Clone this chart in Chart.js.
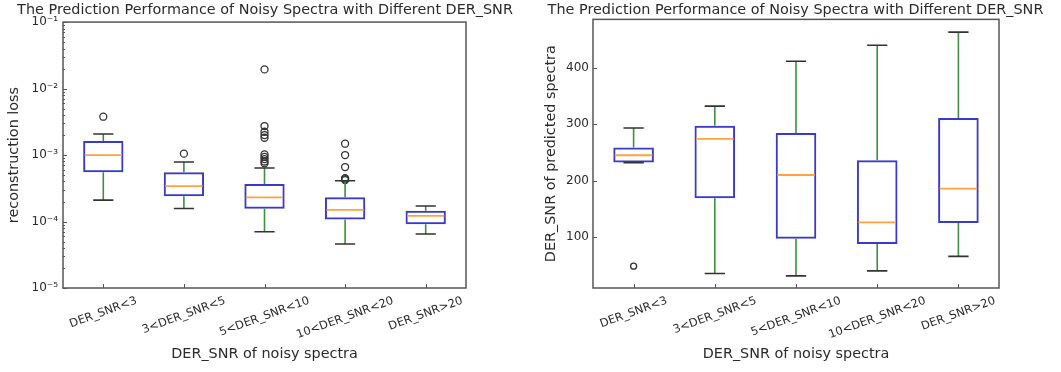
<!DOCTYPE html>
<html>
<head>
<meta charset="utf-8">
<script src="https://cdn.jsdelivr.net/npm/chart.js@4"></script>
<style>
  html, body { margin: 0; padding: 0; background: #fff; }
  .panel { position: absolute; top: 0; height: 372px; }
  #left { left: 0; width: 530px; }
  #right { left: 530px; width: 531px; }
</style>
</head>
<body>
<div class="panel" id="left"><canvas id="lossChart" width="530" height="372"></canvas></div>
<div class="panel" id="right"><canvas id="snrChart" width="531" height="372"></canvas></div>
<script>
const categories = ['DER_SNR<3', '3<DER_SNR<5', '5<DER_SNR<10', '10<DER_SNR<20', 'DER_SNR>20'];

// reconstruction loss per group: whisker ends, quartiles, medians, fliers
const lossLow = [2.1e-4, 1.57e-4, 7.0e-5, 4.6e-5, 6.5e-5];
const lossQ1 = [5.5e-4, 2.4e-4, 1.56e-4, 1.07e-4, 9.1e-5];
const lossMedian = [1.0e-3, 3.4e-4, 2.31e-4, 1.5e-4, 1.22e-4];
const lossQ3 = [1.62e-3, 5.5e-4, 3.66e-4, 2.31e-4, 1.45e-4];
const lossHigh = [2.07e-3, 7.85e-4, 6.4e-4, 4.1e-4, 1.71e-4];
const lossOutliers = [
  [3.77e-3],
  [1.05e-3],
  [7.5e-4, 8.0e-4, 8.7e-4, 9.4e-4, 1.02e-3, 1.82e-3, 2.0e-3, 2.24e-3, 2.73e-3, 1.94e-2],
  [4.2e-4, 4.35e-4, 4.5e-4, 6.6e-4, 1.0e-3, 1.48e-3],
  []
];
const lossTicks = [1e-5, 1e-4, 1e-3, 1e-2, 1e-1];

// DER_SNR of predicted spectra per group
const snrLow = [232, 35.6, 31.5, 40.4, 66];
const snrQ1 = [232, 169, 97, 88, 125];
const snrMedian = [245, 274, 210, 126, 186];
const snrQ3 = [258.5, 297.4, 284.5, 236, 311];
const snrHigh = [293.3, 332, 411.3, 439.6, 463];
const snrOutliers = [[48.7], [], [], [], []];
const snrTicks = [100, 200, 300, 400];

const BOX = '#3a3ac8';
const MEDIAN = '#ffa244';
const WHISKER = '#3f8f3f';
const CAP = '#333';
const FRAME = '#555';
const TEXT = '#2b2b2b';
const FONT = 'DejaVu Sans';
const TITLE = 'The Prediction Performance of Noisy Spectra with Different DER_SNR';

const SUP = {'-': '\u207B', '0': '\u2070', '1': '\u00B9', '2': '\u00B2', '3': '\u00B3',
  '4': '\u2074', '5': '\u2075', '6': '\u2076', '7': '\u2077', '8': '\u2078', '9': '\u2079'};
function powerLabel(v) {
  const e = Math.round(Math.log10(v));
  return '10' + String(e).split('').map(c => SUP[c]).join('');
}

// whiskers, caps and median lines, placed on the floating bars
const boxParts = {
  id: 'boxParts',
  afterDatasetsDraw(chart, args, opts) {
    const ctx = chart.ctx;
    const y = chart.scales.y;
    const bars = chart.getDatasetMeta(0).data;
    ctx.save();
    opts.low.forEach((lo, i) => {
      const cx = bars[i].x;
      const half = bars[i].width / 2;
      const pLo = y.getPixelForValue(lo);
      const pHi = y.getPixelForValue(opts.high[i]);
      ctx.lineWidth = 1.6;
      ctx.strokeStyle = WHISKER;
      ctx.beginPath();
      ctx.moveTo(cx, y.getPixelForValue(opts.q3[i]));
      ctx.lineTo(cx, pHi);
      ctx.moveTo(cx, y.getPixelForValue(opts.q1[i]));
      ctx.lineTo(cx, pLo);
      ctx.stroke();

      ctx.strokeStyle = CAP;
      ctx.beginPath();
      [pLo, pHi].forEach(py => {
        ctx.moveTo(cx - half / 2, py);
        ctx.lineTo(cx + half / 2, py);
      });
      ctx.stroke();

      const pMed = y.getPixelForValue(opts.median[i]);
      ctx.lineWidth = 1.8;
      ctx.strokeStyle = MEDIAN;
      ctx.beginPath();
      ctx.moveTo(cx - half + 1.5, pMed);
      ctx.lineTo(cx + half - 1.5, pMed);
      ctx.stroke();
    });
    ctx.restore();
  }
};

// axes frame, inward tick marks and the tilted category labels
const frame = {
  id: 'frame',
  afterDraw(chart, args, opts) {
    const ctx = chart.ctx;
    const a = chart.chartArea;
    const x = chart.scales.x;
    const y = chart.scales.y;
    ctx.save();
    ctx.strokeStyle = FRAME;
    ctx.lineWidth = 1.5;
    ctx.strokeRect(a.left, a.top, a.right - a.left, a.bottom - a.top);

    ctx.lineWidth = 1;
    ctx.beginPath();
    y.ticks.forEach(t => {
      const py = Math.round(y.getPixelForValue(t.value)) + 0.5;
      ctx.moveTo(a.left, py);
      ctx.lineTo(a.left + 4, py);
    });
    (opts.minor || []).forEach(v => {
      const py = Math.round(y.getPixelForValue(v)) + 0.5;
      ctx.moveTo(a.left, py);
      ctx.lineTo(a.left + 2, py);
    });
    x.ticks.forEach((t, i) => {
      const px = Math.round(x.getPixelForTick(i)) + 0.5;
      ctx.moveTo(px, a.bottom);
      ctx.lineTo(px, a.bottom - 4);
    });
    ctx.stroke();

    const rot = 20 * Math.PI / 180;
    const size = 11.5;
    ctx.font = size + 'px "' + FONT + '"';
    ctx.fillStyle = TEXT;
    ctx.textAlign = 'center';
    ctx.textBaseline = 'middle';
    categories.forEach((label, i) => {
      const w = ctx.measureText(label).width;
      const h = w * Math.sin(rot) + size * Math.cos(rot);
      ctx.save();
      ctx.translate(x.getPixelForTick(i), a.bottom + 7 + h / 2);
      ctx.rotate(-rot);
      ctx.fillText(label, 0, 0);
      ctx.restore();
    });
    ctx.restore();
  }
};

function makeBoxChart(id, s) {
  const outlierPoints = [];
  s.outliers.forEach((list, i) => list.forEach(v => outlierPoints.push({x: categories[i], y: v})));

  return new Chart(document.getElementById(id).getContext('2d'), {
    type: 'bar',
    data: {
      labels: categories,
      datasets: [{
        data: s.q1.map((v, i) => [v, s.q3[i]]),
        backgroundColor: 'rgba(0,0,0,0)',
        borderColor: BOX,
        borderWidth: 2,
        borderSkipped: false,
        barPercentage: 0.5,
        categoryPercentage: 1
      }, {
        type: 'line',
        data: outlierPoints,
        showLine: false,
        pointStyle: 'circle',
        pointRadius: s.flierRadius,
        pointBorderColor: '#333',
        pointBackgroundColor: 'rgba(0,0,0,0)',
        pointBorderWidth: 1.3
      }]
    },
    options: {
      responsive: false,
      animation: false,
      layout: {padding: 0},
      plugins: {
        legend: {display: false},
        tooltip: {enabled: false},
        title: {
          display: true,
          text: TITLE,
          color: TEXT,
          font: {family: FONT, size: 14.4, weight: 'normal'},
          padding: {top: 1.4, bottom: s.titleGap}
        },
        boxParts: {low: s.low, q1: s.q1, median: s.median, q3: s.q3, high: s.high},
        frame: {minor: s.minor}
      },
      scales: {
        x: {
          grid: {display: false},
          border: {display: false},
          ticks: {display: false},
          title: {
            display: true,
            text: 'DER_SNR of noisy spectra',
            color: TEXT,
            font: {family: FONT, size: 14.4},
            padding: {top: 0, bottom: 9.4}
          },
          afterFit(scale) { scale.height = 84; }
        },
        y: {
          type: s.yType,
          min: s.yMin,
          max: s.yMax,
          grid: {display: false, drawTicks: false},
          border: {display: false},
          ticks: {
            color: TEXT,
            padding: s.tickPad,
            font: {family: FONT, size: 12},
            callback: s.tickLabel
          },
          afterBuildTicks(scale) { scale.ticks = s.ticks.map(v => ({value: v})); },
          title: {
            display: true,
            text: s.yTitle,
            color: TEXT,
            font: {family: FONT, size: 14.4},
            padding: {top: s.yTitlePad, bottom: 0}
          },
          afterFit(scale) { scale.width = 63; }
        },
        pad: {
          type: 'linear',
          position: 'right',
          grid: {display: false},
          border: {display: false},
          ticks: {display: false},
          afterFit(scale) { scale.width = s.rightGap; }
        }
      }
    },
    plugins: [boxParts, frame]
  });
}

const logMinor = [];
for (let e = -5; e < -1; e++) {
  for (let m = 2; m < 10; m++) logMinor.push(m * Math.pow(10, e));
}

makeBoxChart('lossChart', {
  low: lossLow, q1: lossQ1, median: lossMedian, q3: lossQ3, high: lossHigh,
  outliers: lossOutliers, ticks: lossTicks, minor: logMinor,
  yType: 'logarithmic', yMin: 1e-5, yMax: 1e-1,
  tickLabel: v => powerLabel(v), tickPad: 5,
  yTitle: 'reconstruction loss', yTitlePad: 5.4,
  titleGap: 3.4, rightGap: 64, flierRadius: 3.5
});

makeBoxChart('snrChart', {
  low: snrLow, q1: snrQ1, median: snrMedian, q3: snrQ3, high: snrHigh,
  outliers: snrOutliers, ticks: snrTicks, minor: [],
  yType: 'linear', yMin: 10, yMax: 485.5,
  tickLabel: v => String(v), tickPad: 4,
  yTitle: 'DER_SNR of predicted spectra', yTitlePad: 12.4,
  titleGap: 0.7, rightGap: 62, flierRadius: 3
});
</script>
</body>
</html>
